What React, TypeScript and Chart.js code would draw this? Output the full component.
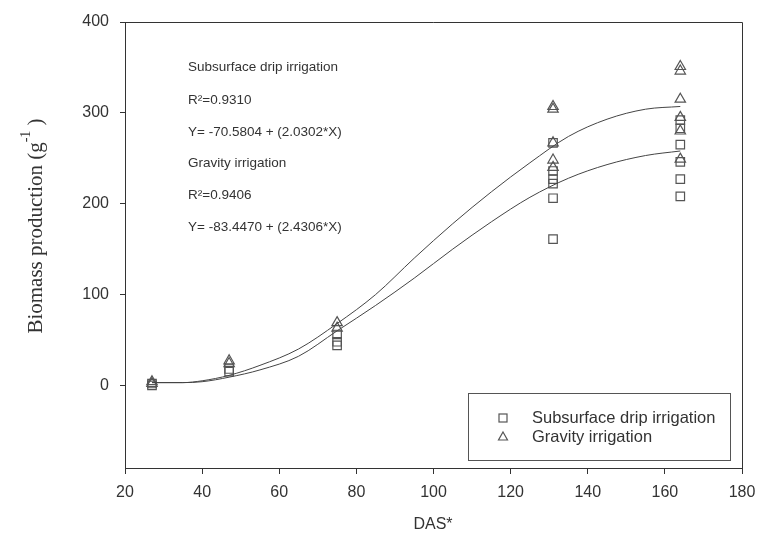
import React, { useEffect, useRef } from "react";
import { Chart, registerables } from "chart.js";

Chart.register(...registerables);

// Observed data (DAS = days after sowing)
const subsurfaceX = [27, 27, 47, 47, 75, 75, 75, 131, 131, 131, 131, 131, 131, 164, 164, 164, 164, 164, 164];
const subsurfaceY = [2, 0, 18, 15, 56, 48, 44, 267, 236, 227, 222, 206, 161, 292, 283, 265, 246, 227, 208];
const gravityX = [27, 27, 47, 47, 75, 75, 131, 131, 131, 131, 131, 164, 164, 164, 164, 164, 164];
const gravityY = [4, 2, 27, 24, 69, 63, 307, 304, 267, 248, 240, 351, 346, 315, 295, 280, 249];

// Fitted curves
const curveX = [27, 35, 40, 47, 55, 65, 75, 85, 95, 105, 115, 125, 135, 145, 155, 164];
const gravityFit = [3, 3, 5, 11, 22, 40, 68, 100, 140, 178, 213, 245, 274, 293, 304, 307];
const subsurfaceFit = [3, 3, 4, 9, 17, 32, 60, 88, 118, 150, 180, 207, 228, 243, 253, 258];

const xTicks = [20, 40, 60, 80, 100, 120, 140, 160, 180];
const yTicks = [0, 100, 200, 300, 400];

const annotationLines = [
  "Subsurface drip irrigation",
  "R\u00B2=0.9310",
  "Y= -70.5804 + (2.0302*X)",
  "Gravity irrigation",
  "R\u00B2=0.9406",
  "Y= -83.4470 + (2.4306*X)",
];
const legendLabels = ["Subsurface drip irrigation", "Gravity irrigation"];
const xTitle = "DAS*";
const yTitleMain = "Biomass production (g";
const yTitleSup = "-1";
const yTitleEnd = " )";

const INK = "#333";
const MARK = "#555";
const SANS = "'Liberation Sans', Arial, sans-serif";
const SERIF = "'Liberation Serif', 'Times New Roman', serif";

const decorPlugin = {
  id: "decor",
  afterDraw(chart: any) {
    const ctx = chart.ctx as CanvasRenderingContext2D;
    const ca = chart.chartArea;
    ctx.save();
    // frame top & right
    ctx.strokeStyle = INK;
    ctx.lineWidth = 1;
    ctx.beginPath();
    ctx.moveTo(ca.left, ca.top + 0.5);
    ctx.lineTo(ca.right + 0.5, ca.top + 0.5);
    ctx.lineTo(ca.right + 0.5, ca.bottom);
    ctx.stroke();

    // annotation text
    ctx.fillStyle = INK;
    ctx.font = `13.5px ${SANS}`;
    ctx.textAlign = "left";
    ctx.textBaseline = "middle";
    const ys = [67, 100, 132, 163, 195, 227];
    annotationLines.forEach((t, i) => ctx.fillText(t, 188, ys[i]));

    // legend box
    ctx.strokeStyle = MARK;
    ctx.lineWidth = 1;
    ctx.strokeRect(468.5, 393.5, 262, 67);
    ctx.lineWidth = 1.2;
    ctx.strokeRect(499, 414, 8, 8);
    ctx.beginPath();
    ctx.moveTo(503, 432);
    ctx.lineTo(507.5, 440);
    ctx.lineTo(498.5, 440);
    ctx.closePath();
    ctx.stroke();
    ctx.fillStyle = INK;
    ctx.font = `16.5px ${SANS}`;
    ctx.fillText(legendLabels[0], 532, 418);
    ctx.fillText(legendLabels[1], 532, 437);

    // x title
    ctx.textAlign = "center";
    ctx.font = `16px ${SANS}`;
    ctx.fillText(xTitle, 433, 525);

    // y title rotated
    ctx.translate(36, 226);
    ctx.rotate(-Math.PI / 2);
    const mainFont = `21px ${SERIF}`;
    const supFont = `14px ${SERIF}`;
    ctx.font = mainFont;
    const w1 = ctx.measureText(yTitleMain).width;
    const w3 = ctx.measureText(yTitleEnd).width;
    ctx.font = supFont;
    const w2 = ctx.measureText(yTitleSup).width;
    const total = w1 + w2 + w3;
    let x0 = -total / 2;
    ctx.textAlign = "left";
    ctx.textBaseline = "alphabetic";
    ctx.font = mainFont;
    ctx.fillText(yTitleMain, x0, 6);
    x0 += w1;
    ctx.font = supFont;
    ctx.fillText(yTitleSup, x0, -6);
    x0 += w2;
    ctx.font = mainFont;
    ctx.fillText(yTitleEnd, x0, 6);
    ctx.restore();
  },
};

export default function App() {
  const ref = useRef<HTMLCanvasElement>(null);
  useEffect(() => {
    document.body.style.margin = "0";
    const canvas = ref.current!;
    const toPts = (xs: number[], ys: number[]) => xs.map((x, i) => ({ x, y: ys[i] }));
    const chart = new Chart(canvas, {
      type: "scatter",
      data: {
        datasets: [
          {
            data: toPts(curveX, gravityFit),
            showLine: true,
            borderColor: "#444",
            borderWidth: 1,
            pointRadius: 0,
            cubicInterpolationMode: "monotone",
            fill: false,
          } as any,
          {
            data: toPts(curveX, subsurfaceFit),
            showLine: true,
            borderColor: "#444",
            borderWidth: 1,
            pointRadius: 0,
            cubicInterpolationMode: "monotone",
            fill: false,
          } as any,
          {
            data: toPts(subsurfaceX, subsurfaceY),
            pointStyle: "rect",
            pointRadius: 6,
            borderColor: MARK,
            backgroundColor: "rgba(0,0,0,0)",
            borderWidth: 1.2,
          },
          {
            data: toPts(gravityX, gravityY),
            pointStyle: "triangle",
            pointRadius: 6,
            borderColor: MARK,
            backgroundColor: "rgba(0,0,0,0)",
            borderWidth: 1.2,
          },
        ],
      },
      options: {
        responsive: false,
        animation: false,
        layout: { padding: { top: 22, right: 18, left: 0, bottom: 0 } },
        plugins: { legend: { display: false }, tooltip: { enabled: false } },
        scales: {
          x: {
            type: "linear",
            min: 20,
            max: 180,
            afterBuildTicks: (s: any) => {
              s.ticks = xTicks.map((v) => ({ value: v }));
            },
            afterFit: (s: any) => {
              s.height = 73;
              s.paddingRight = 0;
              s.paddingLeft = 0;
            },
            ticks: {
              color: INK,
              font: { family: SANS, size: 16 },
              padding: 9,
              maxRotation: 0,
              autoSkip: false,
            },
            grid: { drawOnChartArea: false, drawTicks: true, tickLength: 6, color: INK, tickColor: INK },
            border: { display: true, color: INK, width: 1 },
          },
          y: {
            type: "linear",
            min: -91,
            max: 400,
            afterBuildTicks: (s: any) => {
              s.ticks = yTicks.map((v) => ({ value: v }));
            },
            afterFit: (s: any) => {
              s.width = 125;
              s.paddingTop = 0;
              s.paddingBottom = 0;
            },
            ticks: {
              color: INK,
              font: { family: SANS, size: 16 },
              padding: 11,
              autoSkip: false,
            },
            grid: { drawOnChartArea: false, drawTicks: true, tickLength: 5, color: INK, tickColor: INK },
            border: { display: true, color: INK, width: 1 },
          },
        },
      },
      plugins: [decorPlugin],
    });
    return () => chart.destroy();
  }, []);
  return <canvas ref={ref} width={760} height={541} style={{ display: "block", width: 760, height: 541 }} />;
}
